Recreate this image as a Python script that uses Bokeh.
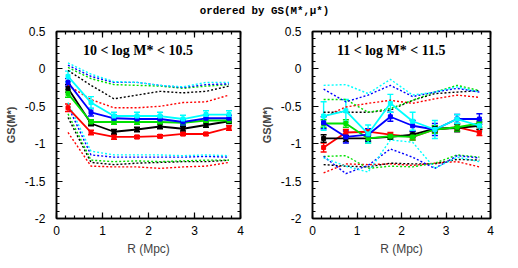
import numpy as np
from bokeh.plotting import figure
from bokeh.models import (ColumnDataSource, Whisker, TeeHead, LinearAxis, Range1d,
                          CustomJSTickFormatter, FixedTicker)
from bokeh.layouts import column, row
from bokeh.core.properties import value
from bokeh.embed import file_html
from bokeh.resources import INLINE

R = [0.25, 0.75, 1.25, 1.75, 2.25, 2.75, 3.25, 3.75]
COLORS = {"red": "#ff0000", "black": "#000000", "green": "#00e000", "blue": "#0000ff", "cyan": "#00ffff"}
ORDER = ["red", "black", "green", "blue", "cyan"]

TITLE = "ordered by GS(M*,μ*)"
YLABEL = "GS(M*)"
XLABEL = "R (Mpc)"
LABEL_L = "10 < log M* < 10.5"
LABEL_R = "11 < log M* < 11.5"
X_TICKS = [0, 1, 2, 3, 4]
Y_TICKS = [-2, -1.5, -1, -0.5, 0, 0.5]

# ---- left panel (10 < log M* < 10.5) ----
left_mean = {
    "red":   [-0.52, -0.85, -0.91, -0.91, -0.90, -0.87, -0.87, -0.79],
    "black": [-0.26, -0.73, -0.84, -0.81, -0.77, -0.80, -0.75, -0.70],
    "green": [-0.33, -0.71, -0.71, -0.71, -0.71, -0.72, -0.69, -0.69],
    "blue":  [-0.18, -0.58, -0.66, -0.67, -0.67, -0.71, -0.66, -0.66],
    "cyan":  [-0.10, -0.45, -0.63, -0.63, -0.63, -0.67, -0.61, -0.61],
}
left_err = {
    "red":   [0.05, 0.03, 0.03, 0.02, 0.02, 0.02, 0.02, 0.03],
    "black": [0.05, 0.03, 0.03, 0.03, 0.03, 0.03, 0.03, 0.03],
    "green": [0.05, 0.03, 0.03, 0.03, 0.03, 0.03, 0.03, 0.03],
    "blue":  [0.05, 0.05, 0.04, 0.04, 0.04, 0.04, 0.04, 0.04],
    "cyan":  [0.07, 0.08, 0.05, 0.05, 0.05, 0.05, 0.05, 0.05],
}
left_hi = {
    "red":   [-0.22, -0.41, -0.52, -0.52, -0.50, -0.45, -0.44, -0.35],
    "black": [-0.02, -0.22, -0.40, -0.35, -0.30, -0.32, -0.30, -0.23],
    "green": [0.02, -0.13, -0.21, -0.22, -0.23, -0.26, -0.23, -0.21],
    "blue":  [0.05, -0.10, -0.18, -0.18, -0.22, -0.25, -0.21, -0.20],
    "cyan":  [0.08, -0.07, -0.17, -0.18, -0.22, -0.24, -0.18, -0.18],
}
left_lo = {
    "red":   [-0.85, -1.30, -1.31, -1.31, -1.33, -1.31, -1.30, -1.25],
    "black": [-0.65, -1.25, -1.28, -1.26, -1.25, -1.24, -1.24, -1.22],
    "green": [-0.60, -1.22, -1.24, -1.23, -1.24, -1.23, -1.22, -1.22],
    "blue":  [-0.50, -1.15, -1.18, -1.18, -1.18, -1.18, -1.17, -1.18],
    "cyan":  [-0.45, -1.10, -1.15, -1.15, -1.15, -1.16, -1.15, -1.16],
}

# ---- right panel (11 < log M* < 11.5) ----
right_mean = {
    "red":   [-1.05, -0.85, -0.84, -0.88, -0.91, -0.81, -0.78, -0.85],
    "black": [-0.93, -0.93, -0.93, -0.91, -0.88, -0.80, -0.79, -0.76],
    "green": [-0.73, -0.73, -0.93, -0.90, -0.91, -0.81, -0.78, -0.73],
    "blue":  [-0.72, -0.91, -0.88, -0.64, -0.76, -0.81, -0.67, -0.67],
    "cyan":  [-0.63, -0.56, -0.87, -0.46, -0.70, -0.81, -0.67, -0.76],
}
right_err = {
    "red":   [0.06, 0.04, 0.04, 0.03, 0.04, 0.04, 0.04, 0.04],
    "black": [0.05, 0.04, 0.04, 0.03, 0.04, 0.04, 0.05, 0.05],
    "green": [0.05, 0.05, 0.06, 0.03, 0.04, 0.05, 0.05, 0.05],
    "blue":  [0.08, 0.08, 0.08, 0.06, 0.07, 0.08, 0.06, 0.07],
    "cyan":  [0.19, 0.15, 0.12, 0.12, 0.12, 0.12, 0.06, 0.08],
}
right_hi = {
    "red":   [-0.64, -0.51, -0.46, -0.42, -0.46, -0.40, -0.35, -0.38],
    "black": [-0.58, -0.58, -0.58, -0.55, -0.42, -0.33, -0.31, -0.29],
    "green": [-0.41, -0.41, -0.58, -0.53, -0.42, -0.31, -0.22, -0.29],
    "blue":  [-0.27, -0.44, -0.35, -0.22, -0.37, -0.31, -0.26, -0.31],
    "cyan":  [-0.22, -0.21, -0.33, -0.14, -0.35, -0.31, -0.24, -0.31],
}
right_lo = {
    "red":   [-1.39, -1.27, -1.28, -1.27, -1.29, -1.26, -1.24, -1.31],
    "black": [-1.28, -1.30, -1.31, -1.26, -1.27, -1.27, -1.21, -1.22],
    "green": [-1.17, -1.16, -1.33, -1.30, -1.31, -1.26, -1.15, -1.18],
    "blue":  [-1.17, -1.40, -1.29, -1.07, -1.18, -1.33, -1.16, -1.19],
    "cyan":  [-1.19, -1.30, -1.38, -0.95, -0.98, -1.33, -1.18, -1.24],
}

FONT = "Liberation Sans"
SERIF = "Liberation Serif"
MONO = "Liberation Mono"

fmt_num = CustomJSTickFormatter(code="return tick.toString();")
fmt_none = CustomJSTickFormatter(code="return '';")


def style_axis(ax):
    ax.major_tick_in = 6
    ax.major_tick_out = 0
    ax.minor_tick_in = 3
    ax.minor_tick_out = 0
    ax.axis_line_width = 1.5
    ax.major_tick_line_width = 1.2
    ax.minor_tick_line_width = 1.2
    ax.major_label_text_font = FONT
    ax.major_label_text_font_size = "12px"
    ax.major_label_text_color = "black"


def make_panel(mean, err, hi, lo, label, width, bl, br):
    p = figure(width=width, height=238, output_backend="svg", toolbar_location=None,
               x_range=Range1d(0, 4), y_range=Range1d(-2, 0.5),
               min_border_left=bl, min_border_right=br, min_border_top=11, min_border_bottom=40)
    p.grid.visible = False
    p.outline_line_color = "black"
    p.outline_line_width = 1.5

    xt = FixedTicker(ticks=X_TICKS, minor_ticks=list(np.round(np.arange(0, 4.01, 0.2), 2)))
    yt = FixedTicker(ticks=Y_TICKS, minor_ticks=list(np.round(np.arange(-2, 0.51, 0.1), 2)))

    for ax in p.xaxis:
        ax.ticker = xt
        ax.formatter = fmt_num
        style_axis(ax)
        ax.axis_label = XLABEL
        ax.axis_label_text_font = FONT
        ax.axis_label_text_font_style = "normal"
        ax.axis_label_text_font_size = "12px"
        ax.major_label_standoff = 7
        ax.axis_label_standoff = 4
    for ax in p.yaxis:
        ax.ticker = yt
        ax.formatter = fmt_num
        style_axis(ax)
        ax.axis_label = YLABEL
        ax.axis_label_text_font = FONT
        ax.axis_label_text_font_style = "bold"
        ax.axis_label_text_font_size = "11px"
        ax.major_label_standoff = 11
        ax.axis_label_standoff = 5

    top = LinearAxis(ticker=xt, formatter=fmt_none, major_label_standoff=0)
    style_axis(top)
    top.major_label_text_font_size = "1px"
    p.add_layout(top, "above")
    right = LinearAxis(ticker=yt, formatter=fmt_none, major_label_standoff=0)
    style_axis(right)
    right.major_label_text_font_size = "1px"
    p.add_layout(right, "right")

    # dotted bands
    for c in ORDER:
        p.line(R, hi[c], line_color=COLORS[c], line_width=1.4, line_dash="2 2")
        p.line(R, lo[c], line_color=COLORS[c], line_width=1.4, line_dash="2 2")
    # mean lines with error bars
    for c in ORDER:
        m = np.array(mean[c])
        e = np.array(err[c])
        src = ColumnDataSource(dict(x=R, y=m, upper=m + e, lower=m - e))
        p.line("x", "y", source=src, line_color=COLORS[c], line_width=1.8)
        w = Whisker(base="x", upper="upper", lower="lower", source=src,
                    line_color=COLORS[c], line_width=1.4,
                    upper_head=TeeHead(size=6, line_color=COLORS[c], line_width=1.4),
                    lower_head=TeeHead(size=6, line_color=COLORS[c], line_width=1.4))
        p.add_layout(w)
        p.scatter("x", "y", source=src, marker="square", size=4, color=COLORS[c])

    p.text(x=[1.77], y=[0.25], text=[label], text_font=value(SERIF), text_font_style="bold",
           text_font_size="14px", text_align="center", text_baseline="middle", text_color="black")
    return p


p1 = make_panel(left_mean, left_err, left_hi, left_lo, LABEL_L, 257, 56, 17)
p2 = make_panel(right_mean, right_err, right_hi, right_lo, LABEL_R, 253, 50, 20)

# title strip spanning both panels
TW = 510
pt = figure(width=TW, height=20, output_backend="svg", toolbar_location=None,
            x_range=Range1d(0, TW), y_range=Range1d(0, 20),
            min_border_left=0, min_border_right=0, min_border_top=0, min_border_bottom=0)
pt.axis.visible = False
pt.grid.visible = False
pt.outline_line_color = None
pt.text(x=[264], y=[10], text=[TITLE], text_font=value(MONO), text_font_style="bold",
        text_font_size="10.8px", text_align="center", text_baseline="middle", text_color="black")

layout = column(pt, row(p1, p2, spacing=0), spacing=0)

open("out.html", "w").write(file_html(layout, INLINE))
